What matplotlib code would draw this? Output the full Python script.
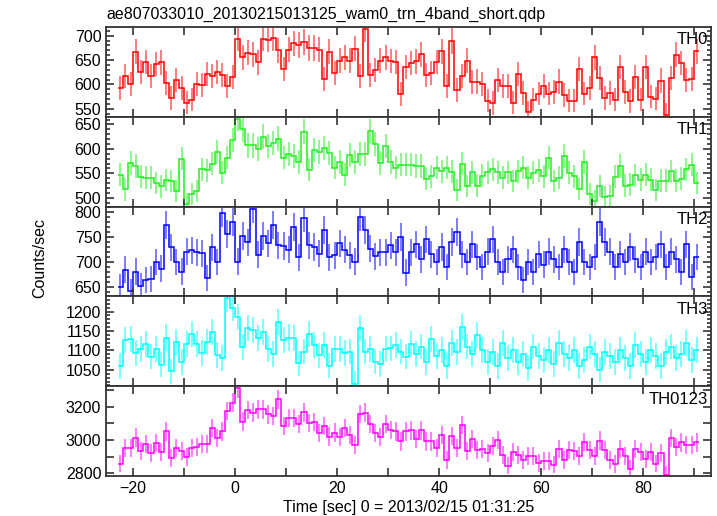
import numpy as np
import matplotlib.pyplot as plt
from matplotlib.ticker import MultipleLocator

plt.rcParams['font.family'] = ['Liberation Sans', 'DejaVu Sans']

# time bins: 1 s wide, starting at -23 s
t_start = -23.0
bin_w = 1.0

th0 = [593, 617, 601, 667, 626, 646, 617, 642, 645, 602,
       572, 610, 593, 563, 569, 600, 599, 621, 617, 626,
       620, 597, 615, 694, 656, 665, 662, 645, 694, 692,
       695, 670, 632, 671, 684, 681, 687, 675, 675, 671,
       611, 667, 624, 649, 656, 649, 673, 617, 714, 620,
       630, 649, 656, 648, 646, 580, 636, 644, 647, 662,
       619, 623, 646, 668, 597, 689, 589, 618, 649, 604,
       606, 601, 567, 562, 610, 596, 596, 563, 622, 583,
       543, 569, 581, 597, 581, 584, 606, 578, 567, 567,
       632, 581, 593, 656, 614, 572, 582, 569, 636, 584,
       566, 615, 569, 636, 575, 571, 608, 538, 614, 661,
       644, 610, 611, 668]

th1 = [547, 517, 571, 565, 543, 541, 541, 530, 523, 536,
       534, 513, 580, 487, 507, 513, 558, 556, 570, 593,
       551, 582, 618, 662, 640, 607, 607, 600, 625, 606,
       612, 621, 582, 590, 585, 573, 635, 557, 598, 593,
       602, 592, 561, 573, 547, 588, 573, 590, 590, 636,
       610, 571, 605, 573, 561, 568, 568, 568, 565, 565,
       539, 544, 561, 554, 561, 553, 515, 570, 524, 552,
       525, 545, 552, 558, 552, 541, 552, 534, 554, 561,
       541, 551, 556, 544, 582, 534, 541, 585, 551, 544,
       518, 573, 508, 494, 524, 502, 504, 543, 565, 525,
       527, 546, 537, 547, 537, 515, 535, 535, 554, 535,
       539, 558, 568, 530]

th2 = [651, 685, 642, 681, 653, 664, 667, 700, 687, 774,
       729, 700, 681, 720, 723, 719, 717, 669, 729, 700,
       797, 755, 779, 701, 751, 739, 806, 714, 752, 737,
       773, 733, 732, 724, 769, 709, 787, 733, 730, 716,
       763, 709, 713, 737, 724, 713, 701, 789, 763, 726,
       711, 719, 719, 733, 719, 749, 679, 719, 735, 705,
       745, 715, 700, 730, 690, 740, 760, 715, 700, 735,
       710, 690, 720, 745, 700, 680, 705, 725, 690, 665,
       700, 680, 715, 695, 720, 705, 690, 725, 700, 680,
       740, 700, 690, 710, 780, 740, 720, 690, 715, 700,
       730, 705, 690, 720, 700, 710, 735, 690, 720, 705,
       680, 735, 670, 710]

th3 = [1060, 1127, 1129, 1093, 1103, 1116, 1084, 1103, 1063, 1133,
       1046, 1122, 1070, 1116, 1142, 1116, 1093, 1121, 1147, 1089,
       1081, 1235, 1210, 1186, 1109, 1158, 1153, 1132, 1147, 1103,
       1090, 1173, 1127, 1133, 1132, 1067, 1097, 1142, 1113, 1087,
       1113, 1061, 1103, 1103, 1093, 1097, 1014, 1158, 1097, 1103,
       1071, 1065, 1103, 1105, 1113, 1097, 1084, 1116, 1090, 1110,
       1070, 1130, 1085, 1100, 1060, 1120, 1095, 1160, 1110, 1090,
       1140, 1100, 1070, 1095, 1060, 1120, 1080, 1100, 1070, 1090,
       1055, 1110, 1085, 1075, 1100, 1065, 1120, 1090, 1080, 1100,
       1060, 1075, 1110, 1090, 1050, 1095, 1085, 1070, 1100, 1080,
       1060, 1115, 1090, 1070, 1100, 1085, 1060, 1095, 1110, 1080,
       1090, 1120, 1075, 1100]

th0123 = [2857, 2951, 2951, 3015, 2935, 2975, 2921, 2981, 2927, 3052,
          2891, 2951, 2931, 2897, 2951, 2955, 2977, 2977, 3072, 3011,
          3052, 3176, 3226, 3314, 3112, 3182, 3166, 3186, 3186, 3156,
          3146, 3246, 3086, 3132, 3132, 3098, 3168, 3102, 3108, 3041,
          3086, 3021, 3045, 3017, 3072, 3030, 2971, 3158, 3166, 3096,
          3041, 3017, 3096, 3062, 3052, 2991, 3052, 3058, 3007, 3058,
          2991, 2991, 2951, 3031, 2881, 3025, 2951, 3092, 2931, 3005,
          2937, 2945, 2921, 2961, 3001, 2911, 2845, 2925, 2910, 2877,
          2905, 2901, 2861, 2871, 2871, 2851, 2945, 2881, 2937, 2931,
          2905, 2987, 2937, 2905, 2997, 2937, 2881, 2855, 2945, 2905,
          2825, 2945, 2925, 2885, 2925, 2857, 2921, 2791, 3011, 2957,
          2985, 2971, 2971, 2985]

names = ['TH0', 'TH1', 'TH2', 'TH3', 'TH0123']
series = [th0, th1, th2, th3, th0123]
colors = ['#ff0000', '#22ee22', '#0000ff', '#00ffff', '#ff00ff']
ylims = [(534, 718), (482, 666), (632, 810), (1008, 1239), (2782, 3326)]
ymajor = [50, 50, 50, 50, 200]
yminor = [10, 10, 10, 10, 100]

fig, axes = plt.subplots(5, 1, sharex=True, figsize=(7.17, 5.16), dpi=100,
                         gridspec_kw={'hspace': 0})
fig.subplots_adjust(left=0.148, right=0.9916, top=0.948, bottom=0.0775)

for ax, name, y, c, yl, mj, mn in zip(axes, names, series, colors, ylims, ymajor, yminor):
    y = np.array(y, dtype=float)
    edges = t_start + bin_w * np.arange(len(y) + 1)
    mid = edges[:-1] + bin_w / 2
    err = np.sqrt(y * bin_w) / bin_w
    ax.errorbar(mid, y, yerr=err, fmt='none', ecolor=c, elinewidth=1.3, alpha=0.55)
    ax.stairs(y, edges, color=c, lw=1.1, baseline=None)
    ax.set_ylim(*yl)
    ax.yaxis.set_major_locator(MultipleLocator(mj))
    ax.yaxis.set_minor_locator(MultipleLocator(mn))
    ax.xaxis.set_major_locator(MultipleLocator(20))
    ax.xaxis.set_minor_locator(MultipleLocator(10))
    ax.tick_params(which='both', direction='in', top=True, right=True,
                   labelsize=11.5, width=1.2, color='#333333')
    ax.tick_params(which='major', length=6)
    ax.tick_params(axis='y', which='minor', length=3)
    ax.tick_params(axis='x', which='minor', length=6)
    if name == 'TH0123':
        ax.tick_params(axis='y', which='minor', length=6)
    for s in ax.spines.values():
        s.set_linewidth(1.3)
        s.set_color('#333333')
    ax.text(0.995, 0.94, name, transform=ax.transAxes, ha='right', va='top',
            fontsize=12)

axes[-1].set_xlim(-25.3, 93.3)
fig.text(0.148, 0.972, 'ae807033010_20130215013125_wam0_trn_4band_short.qdp',
         fontsize=11.5, ha='left', va='center')
fig.text(0.056, 0.5, 'Counts/sec', rotation=90, fontsize=11.5, ha='center', va='center')
fig.text(0.57, 0.017, 'Time [sec] 0 = 2013/02/15 01:31:25', fontsize=11.5,
         ha='center', va='center')

plt.savefig('out.png', dpi=100)
